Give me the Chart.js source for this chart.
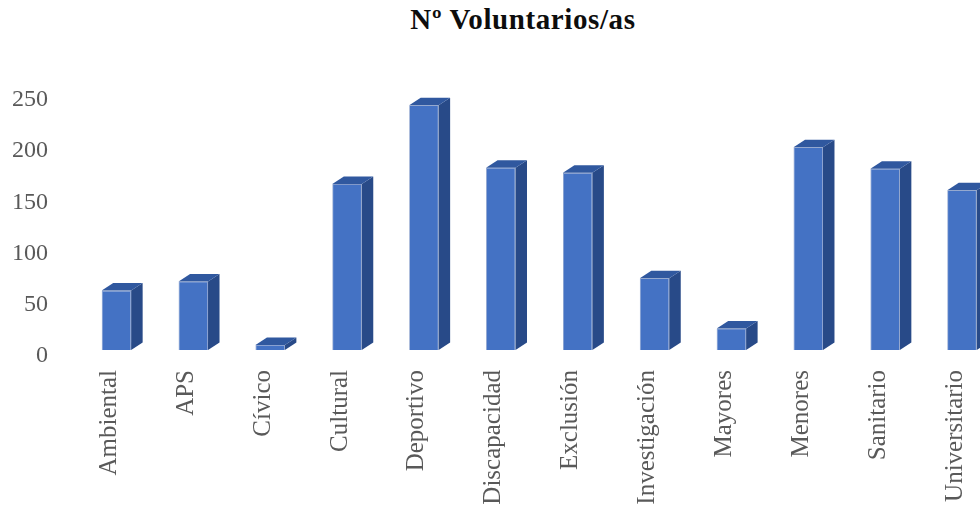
<!DOCTYPE html>
<html>
<head>
<meta charset="utf-8">
<title>Nº Voluntarios/as</title>
<script src="https://cdn.jsdelivr.net/npm/chart.js@4.4.1/dist/chart.umd.min.js"></script>
<style>
  html, body { margin: 0; padding: 0; background: #fff; overflow: hidden; }
  #wrap { position: relative; width: 980px; height: 508px; overflow: hidden; }
  #title {
    position: absolute; top: 5px; left: 323px; width: 400px; text-align: center;
    font: bold 29px "Liberation Serif", serif; line-height: 29px; color: #0d0d0d;
    letter-spacing: 0.6px;
  }
  #chart { position: absolute; left: 0; top: 0; }
</style>
</head>
<body>
<div id="wrap">
  <div id="title">Nº Voluntarios/as</div>
  <canvas id="chart" width="1012" height="508"></canvas>
</div>
<script>
(function () {
  const categories = ["Ambiental", "APS", "Cívico", "Cultural", "Deportivo", "Discapacidad",
    "Exclusión", "Investigación", "Mayores", "Menores", "Sanitario", "Universitario"];
  const voluntarios = [58, 67, 5, 162, 239, 178, 173, 70, 21, 198, 177, 156];
  const yTicks = [0, 50, 100, 150, 200, 250];

  const serif = "'Liberation Serif', serif";

  // depth faces for the pseudo 3D columns, drawn from the bar elements
  const depth = { dx: 11.5, dy: -7.5, side: "#284a88", top: "#30589f" };
  const columns3d = {
    id: "columns3d",
    afterDatasetsDraw(chart) {
      const c = chart.ctx;
      chart.getDatasetMeta(0).data.forEach(bar => {
        const { x, y, base, width } = bar.getProps(["x", "y", "base", "width"], true);
        const l = x - width / 2, r = x + width / 2;
        c.save();
        c.fillStyle = depth.side;
        c.beginPath();
        c.moveTo(r, y);
        c.lineTo(r + depth.dx, y + depth.dy);
        c.lineTo(r + depth.dx, base + depth.dy);
        c.lineTo(r, base);
        c.closePath();
        c.fill();
        c.fillStyle = depth.top;
        c.beginPath();
        c.moveTo(l, y);
        c.lineTo(l + depth.dx, y + depth.dy);
        c.lineTo(r + depth.dx, y + depth.dy);
        c.lineTo(r, y);
        c.closePath();
        c.fill();
        c.restore();
      });
    }
  };

  new Chart(document.getElementById("chart").getContext("2d"), {
    type: "bar",
    data: {
      labels: categories,
      datasets: [{
        label: "Nº Voluntarios/as",
        data: voluntarios,
        backgroundColor: "#4472c4",
        borderColor: "#8299c9",
        borderWidth: 0.8,
        categoryPercentage: 1,
        barPercentage: 0.383
      }]
    },
    options: {
      responsive: false,
      animation: false,
      layout: { padding: { top: 94, left: 0, right: 0, bottom: 0 } },
      plugins: {
        legend: { display: false },
        title: { display: false },
        tooltip: { enabled: false }
      },
      scales: {
        x: {
          grid: { display: false, drawTicks: false },
          border: { display: false },
          afterFit: s => { s.height = 158; },
          ticks: {
            font: { family: serif, size: 25 },
            color: "#595959",
            minRotation: 90,
            maxRotation: 90,
            padding: 20,
            labelOffset: -7,
            autoSkip: false
          }
        },
        y: {
          min: 0,
          max: 250,
          grid: { display: false, drawTicks: false },
          border: { display: false },
          afterFit: s => { s.width = 78; },
          afterBuildTicks: s => { s.ticks = yTicks.map(v => ({ value: v })); },
          ticks: {
            font: { family: serif, size: 24 },
            color: "#595959",
            padding: 30,
            labelOffset: 6
          }
        }
      }
    },
    plugins: [columns3d]
  });
})();
</script>
</body>
</html>
